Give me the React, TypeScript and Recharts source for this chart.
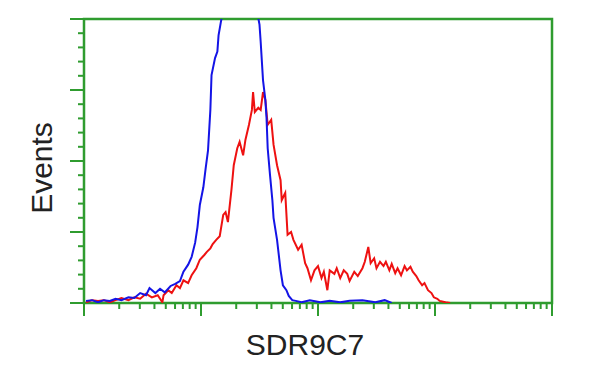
import React from 'react';
import { LineChart, Line, XAxis, YAxis, ReferenceArea } from 'recharts';

// x = log10 fluorescence (decades), y = events
const blueX = [0.017, 0.068, 0.12, 0.17, 0.22, 0.27, 0.32, 0.38, 0.43, 0.48, 0.53, 0.56, 0.61, 0.65, 0.69, 0.74, 0.78, 0.82, 0.85, 0.89, 0.92, 0.95, 0.97, 0.99, 1.02, 1.04, 1.06, 1.08, 1.09, 1.12, 1.14, 1.15, 1.17, 1.25, 1.33, 1.42, 1.48, 1.50, 1.51, 1.53, 1.55, 1.56, 1.57, 1.59, 1.61, 1.62, 1.65, 1.68, 1.70, 1.73, 1.75, 1.78, 1.81, 1.86, 1.93, 2.02, 2.10, 2.19, 2.27, 2.38, 2.49, 2.57, 2.63];
const blueY = [3, 4, 1, 4, 3, 6, 4, 8, 7, 14, 11, 21, 14, 20, 15, 24, 27, 31, 44, 54, 65, 85, 107, 138, 163, 190, 215, 272, 321, 345, 354, 377, 396, 460, 490, 470, 410, 392, 368, 314, 286, 261, 218, 180, 145, 120, 89, 46, 25, 18, 10, 4, 3, 1, 4, 1, 3, 1, 3, 4, 1, 4, 0];

const redX = [0.017, 0.07, 0.12, 0.17, 0.22, 0.27, 0.32, 0.38, 0.43, 0.48, 0.53, 0.58, 0.63, 0.67, 0.68, 0.72, 0.75, 0.79, 0.82, 0.85, 0.89, 0.92, 0.96, 0.99, 1.03, 1.05, 1.08, 1.10, 1.13, 1.16, 1.19, 1.21, 1.23, 1.26, 1.28, 1.31, 1.33, 1.36, 1.38, 1.41, 1.435, 1.445, 1.46, 1.49, 1.51, 1.53, 1.55, 1.57, 1.60, 1.62, 1.65, 1.68, 1.69, 1.72, 1.74, 1.77, 1.79, 1.83, 1.86, 1.89, 1.91, 1.94, 1.97, 2.00, 2.03, 2.05, 2.08, 2.10, 2.14, 2.16, 2.19, 2.22, 2.25, 2.27, 2.31, 2.34, 2.38, 2.40, 2.43, 2.45, 2.48, 2.50, 2.53, 2.56, 2.58, 2.61, 2.63, 2.66, 2.68, 2.71, 2.74, 2.76, 2.79, 2.81, 2.84, 2.86, 2.89, 2.91, 2.94, 2.97, 2.99, 3.02, 3.04, 3.09, 3.13];
const redY = [1, 4, 3, 4, 1, 4, 7, 4, 8, 6, 13, 8, 11, 1, 11, 18, 14, 25, 21, 32, 28, 39, 49, 61, 68, 72, 77, 83, 89, 94, 124, 128, 114, 159, 194, 218, 227, 208, 230, 251, 272, 297, 269, 275, 272, 297, 286, 251, 258, 223, 194, 173, 145, 155, 96, 100, 89, 75, 82, 56, 49, 32, 46, 52, 35, 44, 18, 46, 41, 49, 35, 46, 41, 31, 44, 38, 49, 58, 79, 56, 63, 49, 58, 52, 58, 46, 55, 42, 49, 39, 52, 46, 51, 44, 38, 32, 25, 28, 18, 14, 8, 6, 3, 1, 0];

const xDecades = [0, 1, 2, 3, 4];
const yTickValues = [0, 20, 40, 60, 80, 100, 120, 140, 160, 180, 200, 220, 240, 260, 280, 300, 320, 340, 360, 380, 400];
const xLabel = 'SDR9C7';
const yLabel = 'Events';

const blueData = blueX.map((x, i) => ({ x, y: blueY[i] }));
const redData = redX.map((x, i) => ({ x, y: redY[i] }));

const xTicks: number[] = [];
for (let d = 0; d < 4; d++) {
  for (let k = 1; k <= 9; k++) xTicks.push(d + Math.log10(k));
}
xTicks.push(4);

const GREEN = '#2f9c2f';

const XTick = (props: any) => {
  const { x, y, payload } = props;
  const v = payload.value;
  const major = Math.abs(v - Math.round(v)) < 1e-6;
  return <line x1={x} x2={x} y1={y} y2={y + (major ? 13 : 6)} stroke={GREEN} strokeWidth={2} />;
};

const YTick = (props: any) => {
  const { x, y, payload } = props;
  const major = payload.value % 100 === 0;
  return <line x1={x - (major ? 14 : 6)} x2={x} y1={y} y2={y} stroke={GREEN} strokeWidth={2} />;
};

const textStyle = { fontFamily: '"Liberation Sans", Arial, sans-serif', fontSize: 30, fill: '#222' };

export default function App() {
  return (
    <div style={{ position: 'absolute', left: 0, top: 0, width: 600, height: 375, background: '#fff' }}>
      <LineChart width={600} height={375} margin={{ top: 19, right: 48, bottom: 0, left: 0 }}>
        <XAxis
          type="number"
          dataKey="x"
          domain={[xDecades[0], xDecades[xDecades.length - 1]]}
          ticks={xTicks}
          interval={0}
          height={72}
          axisLine={false}
          tickLine={false}
          tickSize={0}
          tickMargin={0}
          tick={<XTick />}
          allowDataOverflow
          label={() => (
            <text x={305} y={355} textAnchor="middle" style={textStyle}>{xLabel}</text>
          )}
        />
        <YAxis
          type="number"
          domain={[0, 400]}
          ticks={yTickValues}
          interval={0}
          width={84}
          axisLine={false}
          tickLine={false}
          tickSize={0}
          tickMargin={0}
          tick={<YTick />}
          allowDataOverflow
          label={() => (
            <text x={52} y={168} textAnchor="middle" transform="rotate(-90 52 168)" style={textStyle}>{yLabel}</text>
          )}
        />
        <Line data={redData} dataKey="y" type="linear" stroke="#ee1111" strokeWidth={2} dot={false} isAnimationActive={false} />
        <Line data={blueData} dataKey="y" type="linear" stroke="#1414e6" strokeWidth={2} dot={false} isAnimationActive={false} />
        <ReferenceArea x1={0} x2={4} y1={0} y2={400} fill="none" stroke={GREEN} strokeWidth={2.5} ifOverflow="visible" />
      </LineChart>
    </div>
  );
}
